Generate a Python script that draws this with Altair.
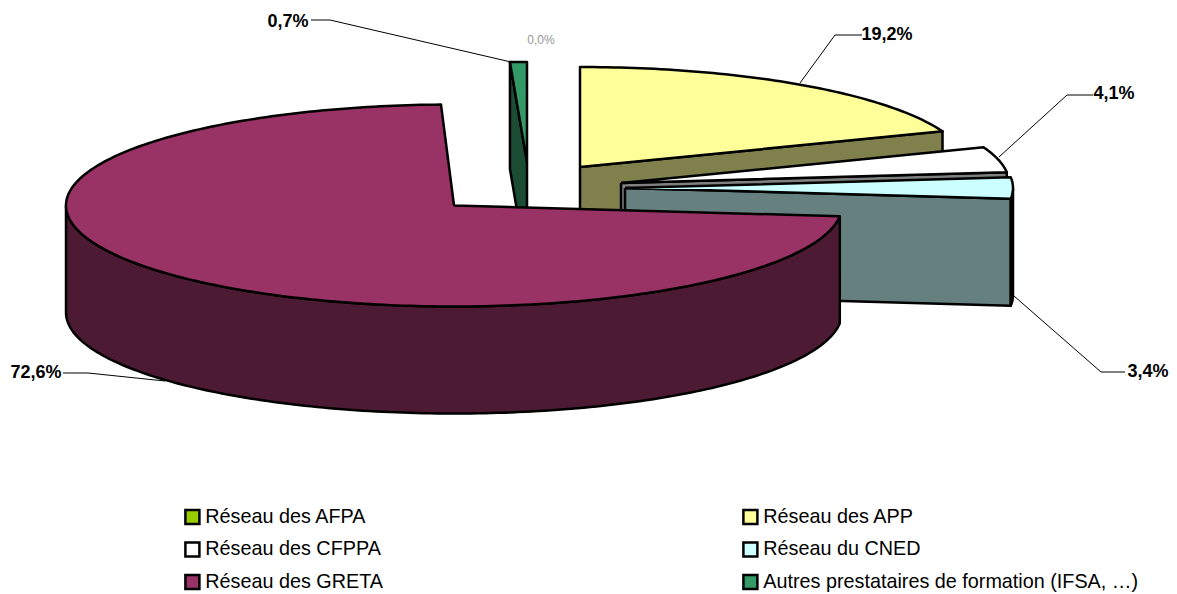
import math
import altair as alt
import pandas as pd

# ---- data
categories = ["Réseau des AFPA", "Réseau des APP", "Réseau des CFPPA",
              "Réseau du CNED", "Réseau des GRETA",
              "Autres prestataires de formation (IFSA, …)"]
shares = [0.0, 19.2, 4.1, 3.4, 72.6, 0.7]
top_colors = ["#99cc00", "#ffff99", "#ffffff", "#ccffff", "#993366", "#339966"]
wall_colors = ["#4d6600", "#80804d", "#808080", "#668080", "#4d1a33", "#1a4d33"]
label_texts = ["0,0%", "19,2%", "4,1%", "3,4%", "72,6%", "0,7%"]
legend_order = [0, 2, 4, 1, 3, 5]

# ---- projection of the tilted pie (page pixels)
RX, RY, DEPTH = 388, 100, 107
apex = {1: (580, 167), 2: (621, 183), 3: (625, 188), 4: (454, 205.5), 5: (527, 162)}
ry_of = {4: 101}

edges = [0.0]
for s in shares:
    edges.append(edges[-1] + s * 3.6)


def pt(i, deg, drop=0):
    cx, cy = apex[i]
    r = ry_of.get(i, RY)
    t = math.radians(deg)
    return (cx + RX * math.sin(t), cy - r * math.cos(t) + drop)


def arc(i, a, b, drop=0, step=1.0):
    n = max(2, int(abs(b - a) / step) + 1)
    return [pt(i, a + (b - a) * k / (n - 1), drop) for k in range(n)]


def top(i, extra=0.0):
    a, b = edges[i], edges[i + 1] + extra
    return [apex[i]] + arc(i, a, b)


def side(i, deg):
    c = apex[i]
    e = pt(i, deg)
    return [c, e, (e[0], e[1] + DEPTH), (c[0], c[1] + DEPTH)]


def outer(i, a, b):
    return arc(i, a, b) + arc(i, b, a, DEPTH)


xs = alt.Scale(domain=[8, 1169], nice=False, zero=False)
ys = alt.Scale(domain=[594, 8], nice=False, zero=False)
X = alt.X("x:Q", scale=xs, axis=None)
Y = alt.Y("y:Q", scale=ys, axis=None)


def poly(points, fill):
    pts = list(points) + [points[0]]
    df = pd.DataFrame({"x": [p[0] for p in pts], "y": [p[1] for p in pts],
                       "i": list(range(len(pts)))})
    return alt.Chart(df).mark_line(fill=fill, stroke="#000000", strokeWidth=2.5,
                                   strokeJoin="round").encode(x=X, y=Y, order="i:Q")


def leader(points):
    df = pd.DataFrame({"x": [p[0] for p in points], "y": [p[1] for p in points],
                       "i": list(range(len(points)))})
    return alt.Chart(df).mark_line(stroke="#000000", strokeWidth=1).encode(x=X, y=Y, order="i:Q")


legend_df = pd.DataFrame({"cat": categories, "x": [454] * 6, "y": [206] * 6})
legend_layer = alt.Chart(legend_df).mark_point(filled=True, shape="square", size=1).encode(
    x=X, y=Y,
    color=alt.Color("cat:N",
                    scale=alt.Scale(domain=[categories[k] for k in legend_order],
                                    range=[top_colors[k] for k in legend_order]),
                    legend=alt.Legend(
                        title=None, orient="none", legendX=174.5, legendY=499,
                        columns=2, columnPadding=354, rowPadding=7.5,
                        symbolType="square", symbolSize=196,
                        symbolStrokeColor="#000000", symbolStrokeWidth=2.5,
                        symbolOpacity=1, labelOpacity=1,
                        labelFont="Liberation Sans", labelFontSize=19.8,
                        labelColor="#000000", labelOffset=3,
                        labelLimit=500, padding=0, gridAlign="each")))

layers = [legend_layer]
layers += [poly(side(5, edges[5]), wall_colors[5]), poly(top(5), top_colors[5])]
layers += [poly(side(1, edges[2]), wall_colors[1]), poly(top(1), top_colors[1])]
layers += [poly(side(2, edges[3]), wall_colors[2]), poly(top(2), top_colors[2])]
layers += [poly(side(3, edges[4]), wall_colors[3]),
           poly(outer(3, 90, edges[4]), wall_colors[3]),
           poly(top(3), top_colors[3])]
layers += [poly(outer(4, edges[4], 270), wall_colors[4]), poly(top(4, 0.6), top_colors[4])]

layers += [
    leader([(311, 20), (330, 20), (511, 62)]),
    leader([(862, 35), (835, 35), (800, 83)]),
    leader([(1093, 95), (1067, 95), (999, 157)]),
    leader([(1125, 372), (1101, 372), (1014, 296)]),
    leader([(63, 373), (88, 373), (165, 381)]),
]

lab_df = pd.DataFrame({"t": label_texts,
                       "x": [541, 887, 1114, 1148, 36, 288],
                       "y": [40, 35, 94, 372, 373, 22]})
layers.append(alt.Chart(lab_df[lab_df.t != "0,0%"]).mark_text(
    font="Liberation Sans", fontWeight="bold", fontSize=18, color="#000000",
    baseline="middle", align="center").encode(x=X, y=Y, text="t:N"))
layers.append(alt.Chart(lab_df[lab_df.t == "0,0%"]).mark_text(
    font="Liberation Sans", fontSize=12, color="#969696",
    baseline="middle", align="center").encode(x=X, y=Y, text="t:N"))

chart = alt.layer(*layers).properties(
    width=1161, height=586, padding=0, autosize=alt.AutoSizeParams(type="none"),
    background="#ffffff").configure_view(stroke=None)

chart.save("out.html", embed_options={"renderer": "svg", "actions": False})
